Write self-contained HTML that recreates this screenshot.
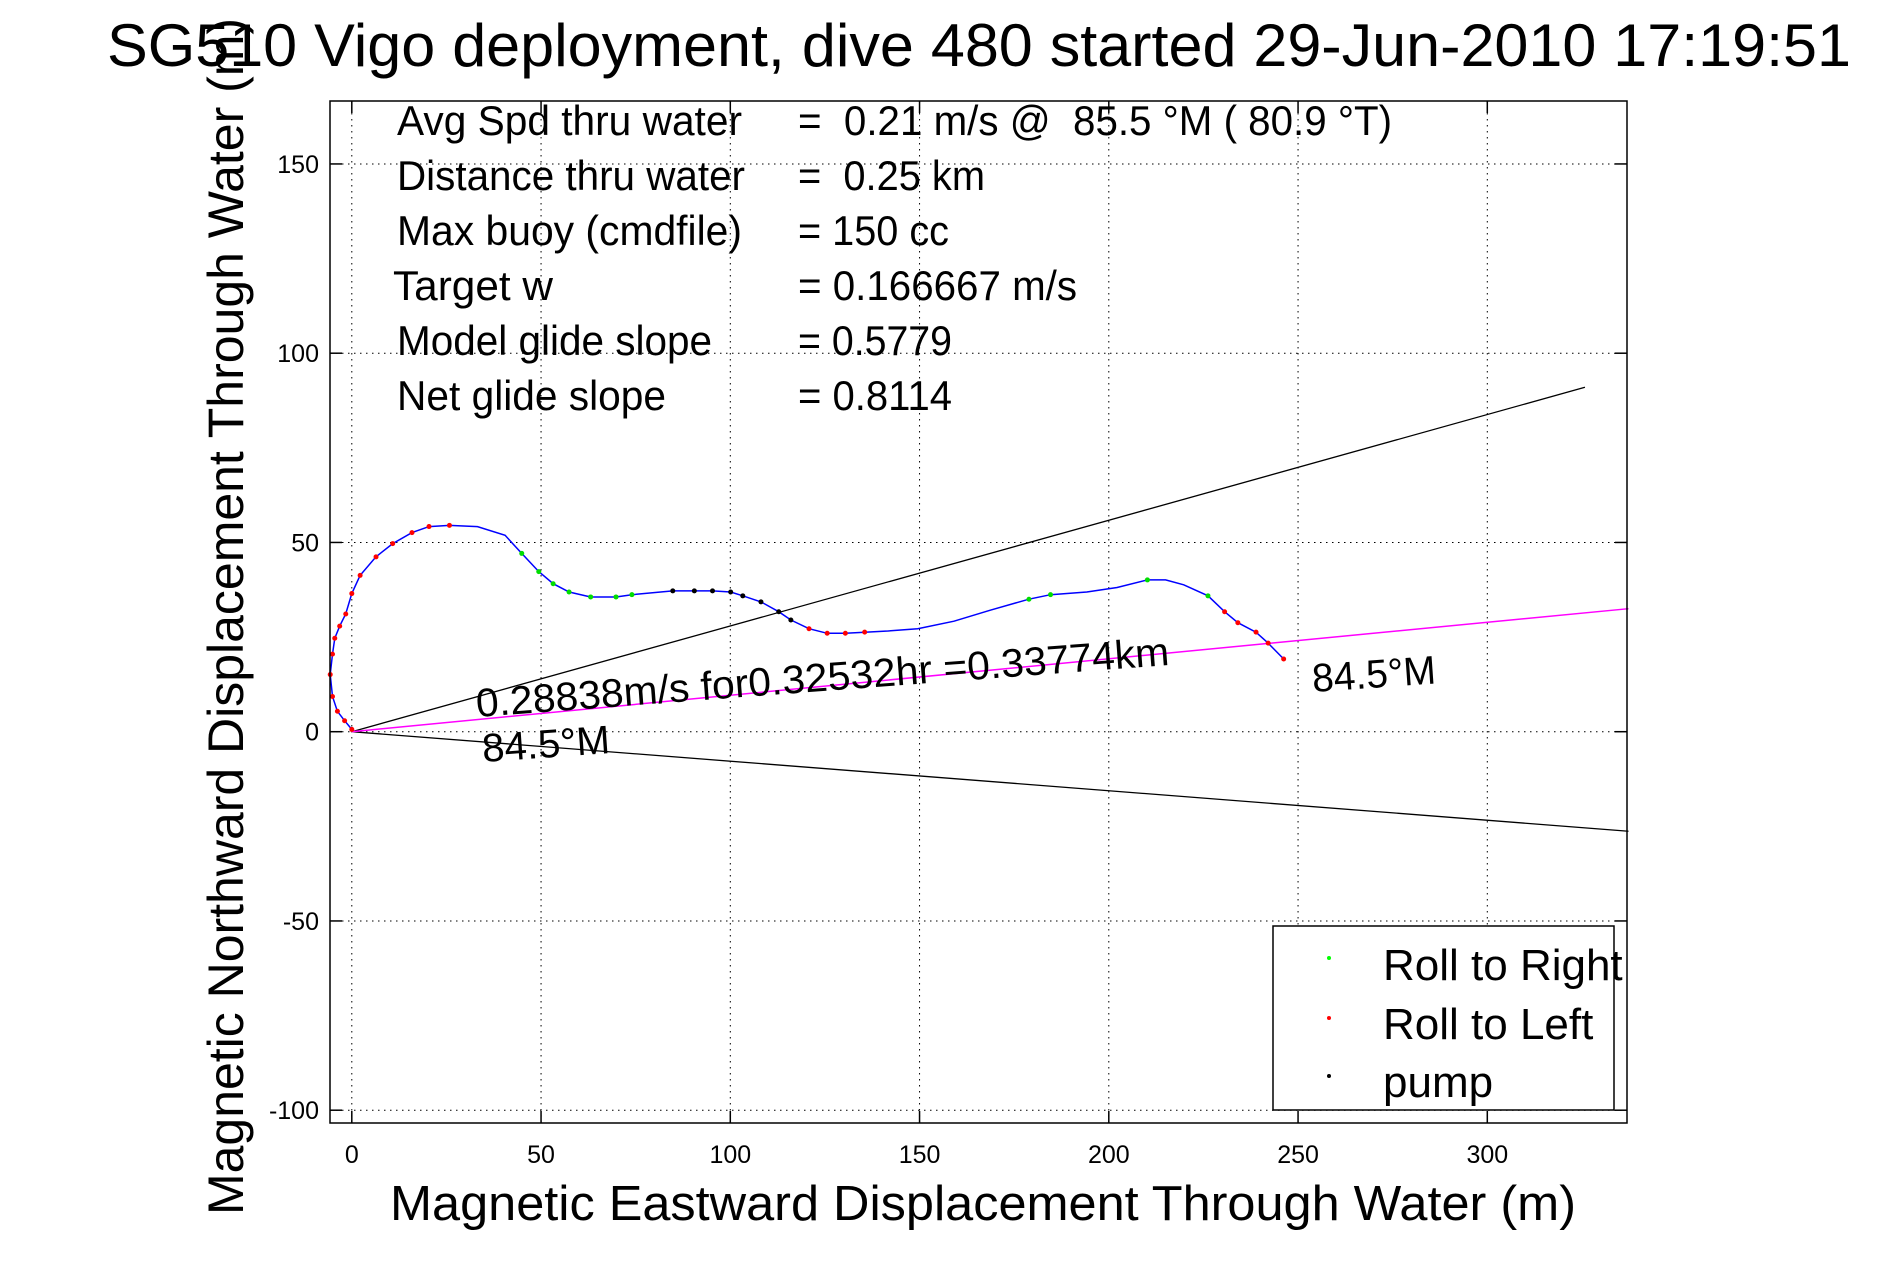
<!DOCTYPE html>
<html><head><meta charset="utf-8">
<style>
html,body{margin:0;padding:0;background:#fff;}
svg{display:block;font-family:"Liberation Sans",Arial,sans-serif;}
</style></head>
<body>
<svg id="chart" width="1891" height="1262" viewBox="0 0 1891 1262" xmlns="http://www.w3.org/2000/svg">
  <rect x="0" y="0" width="1891" height="1262" fill="#fff"/>
  <g id="grid"></g>
  <g id="ticks"></g>
  <g id="marks"></g>
  <rect x="330" y="101" width="1297" height="1022" fill="none" stroke="#000" stroke-width="1.5"/>

  <text x="107" y="66" font-size="60" textLength="1744" lengthAdjust="spacingAndGlyphs">SG510 Vigo deployment, dive 480 started 29-Jun-2010 17:19:51</text>

  <g font-size="42">
    <text x="397" y="135" textLength="345" lengthAdjust="spacingAndGlyphs">Avg Spd thru water</text>
    <text x="798" y="135" textLength="594" lengthAdjust="spacingAndGlyphs" xml:space="preserve">=  0.21 m/s @  85.5 °M ( 80.9 °T)</text>
    <text x="397" y="190" textLength="348" lengthAdjust="spacingAndGlyphs">Distance thru water</text>
    <text x="798" y="190" textLength="187" lengthAdjust="spacingAndGlyphs" xml:space="preserve">=  0.25 km</text>
    <text x="397" y="245" textLength="345" lengthAdjust="spacingAndGlyphs">Max buoy (cmdfile)</text>
    <text x="798" y="245" textLength="151" lengthAdjust="spacingAndGlyphs">= 150 cc</text>
    <text x="393" y="300" textLength="160" lengthAdjust="spacingAndGlyphs">Target w</text>
    <text x="798" y="300" textLength="279" lengthAdjust="spacingAndGlyphs">= 0.166667 m/s</text>
    <text x="397" y="355" textLength="315" lengthAdjust="spacingAndGlyphs">Model glide slope</text>
    <text x="798" y="355" textLength="154" lengthAdjust="spacingAndGlyphs">= 0.5779</text>
    <text x="397" y="410" textLength="269" lengthAdjust="spacingAndGlyphs">Net glide slope</text>
    <text x="798" y="410" textLength="154" lengthAdjust="spacingAndGlyphs">= 0.8114</text>
  </g>

  <text x="390" y="1220" font-size="49" textLength="1186" lengthAdjust="spacingAndGlyphs">Magnetic Eastward Displacement Through Water (m)</text>
  <text transform="translate(243,1215) rotate(-90)" x="0" y="0" font-size="50" textLength="1197" lengthAdjust="spacingAndGlyphs">Magnetic Northward Displacement Through Water (m)</text>

  <text transform="translate(477,717) rotate(-4.3)" font-size="40" textLength="695" lengthAdjust="spacingAndGlyphs">0.28838m/s for0.32532hr =0.33774km</text>
  <text transform="translate(483,762) rotate(-4)" font-size="40" textLength="128" lengthAdjust="spacingAndGlyphs">84.5°M</text>
  <text transform="translate(1313,692) rotate(-4)" font-size="40" textLength="124" lengthAdjust="spacingAndGlyphs">84.5°M</text>

  <g>
    <rect x="1273" y="926" width="341" height="184" fill="#fff" stroke="#000" stroke-width="1.5"/>
    <circle cx="1329" cy="958" r="2" fill="#00ff00"/>
    <text x="1383" y="980" font-size="44">Roll to Right</text>
    <circle cx="1329" cy="1018" r="2" fill="#ff0000"/>
    <text x="1383" y="1039" font-size="44">Roll to Left</text>
    <circle cx="1329" cy="1076" r="2" fill="#000"/>
    <text x="1383" y="1097" font-size="44">pump</text>
  </g>
</svg>
<script>
const xTicks = [0, 50, 100, 150, 200, 250, 300];
const yTicks = [-100, -50, 0, 50, 100, 150];
const trackX = [0,-1.9,-3.8,-5.1,-5.7,-5.1,-4.5,-3.2,-1.6,0,2.2,6.4,10.8,15.9,20.4,25.8,33.2,40.5,44.9,49.4,53.2,57.4,63.1,69.8,74,84.8,90.5,95.3,100.1,103.3,108.1,112.8,116,120.8,125.6,130.4,135.5,141.6,149.5,159.1,168.7,178.9,184.6,194.2,202.2,210.2,215,219.8,226.2,230.6,234.1,238.9,242.1,246.2];
const trackY = [0.6,2.9,5.4,9.3,15.1,20.5,24.7,27.9,31.1,36.5,41.3,46.2,49.7,52.6,54.2,54.5,54.2,51.9,47.1,42.3,39.1,36.9,35.6,35.6,36.2,37.2,37.2,37.2,36.9,35.9,34.3,31.7,29.5,27.2,26,26,26.3,26.6,27.2,29.2,32.1,35,36.2,36.9,38.1,40.1,40.1,38.8,35.9,31.7,28.8,26.3,23.4,19.2];
const trackMode = ['r','r','r','r','r','r','r','r','r','r','r','r','r','r','r','r','','','g','g','g','g','g','g','g','k','k','k','k','k','k','k','k','r','r','r','r','','','','','g','g','','','g','','','g','r','r','r','r','r'];
const headingEnds = [[325.8, 91.0], [337.3, -26.3]];
const netEnd = [337.3, 32.5];

const X0 = 351.8, XS = 3.785, Y0 = 731.7, YS = 3.785;
const PL = 330, PR = 1627, PT = 101, PB = 1123;
function sx(v){ return X0 + v * XS; }
function sy(v){ return Y0 - v * YS; }
const NS = 'http://www.w3.org/2000/svg';
function mk(tag, attrs, parent){
  const e = document.createElementNS(NS, tag);
  for (const k in attrs) e.setAttribute(k, attrs[k]);
  parent.appendChild(e);
  return e;
}
const grid = document.getElementById('grid');
const ticks = document.getElementById('ticks');
const marks = document.getElementById('marks');

xTicks.forEach(t => {
  const x = sx(t);
  const g = mk('line', {x1:x, y1:PT, x2:x, y2:PB, stroke:'#000', 'stroke-width':1, 'stroke-dasharray':'1.5 4.5'}, grid);
  
  
  const a = mk('line', {x1:x, y1:PB, x2:x, y2:PB-12, stroke:'#000', 'stroke-width':1.5}, ticks);
  
  
  const b = mk('line', {x1:x, y1:PT, x2:x, y2:PT+12, stroke:'#000', 'stroke-width':1.5}, ticks);
  
  
  const l = mk('text', {x:x, y:1163, 'font-size':25, 'text-anchor':'middle'}, ticks);
  l.textContent = String(t);
  
  
});
yTicks.forEach(t => {
  const y = sy(t);
  const g = mk('line', {x1:PL, y1:y, x2:PR, y2:y, stroke:'#000', 'stroke-width':1, 'stroke-dasharray':'1.5 4.5'}, grid);
  
  
  const a = mk('line', {x1:PL, y1:y, x2:PL+12, y2:y, stroke:'#000', 'stroke-width':1.5}, ticks);
  
  
  const b = mk('line', {x1:PR, y1:y, x2:PR-12, y2:y, stroke:'#000', 'stroke-width':1.5}, ticks);
  
  
  const l = mk('text', {x:319, y:y+9, 'font-size':25, 'text-anchor':'end'}, ticks);
  l.textContent = String(t);
  
  
});

headingEnds.forEach((p, i) => {
  const ln = mk('line', {x1:sx(0), y1:sy(0), x2:sx(p[0]), y2:sy(p[1]), stroke:'#000', 'stroke-width':1.3}, marks);
  
  
});
const net = mk('line', {x1:sx(0), y1:sy(0), x2:sx(netEnd[0]), y2:sy(netEnd[1]), stroke:'#ff00ff', 'stroke-width':1.5}, marks);



let d = '';
trackX.forEach((v, i) => { d += (i ? 'L' : 'M') + sx(v).toFixed(1) + ' ' + sy(trackY[i]).toFixed(1); });
const path = mk('path', {d:d, fill:'none', stroke:'#0000ff', 'stroke-width':1.5}, marks);



const colors = {r:'#ff0000', g:'#00dd00', k:'#000'};
trackX.forEach((v, i) => {
  const m = trackMode[i];
  if (!m) return;
  const c = mk('circle', {cx:sx(v), cy:sy(trackY[i]), r:2.5, fill:colors[m]}, marks);
  
  
});
</script>
</body></html>
